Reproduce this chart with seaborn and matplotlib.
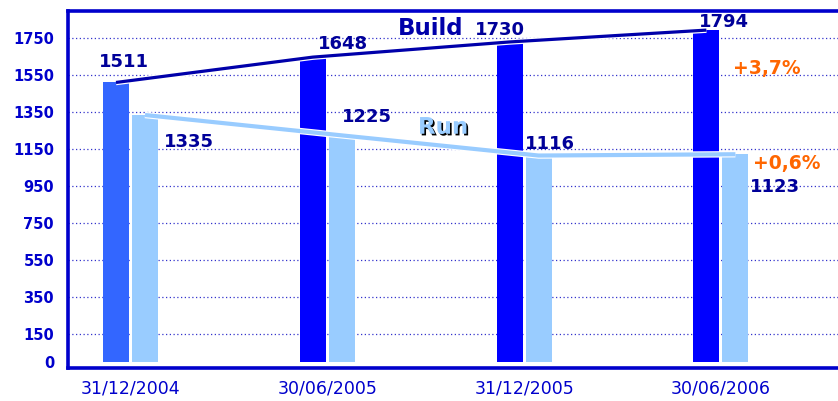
import pandas as pd
import matplotlib
matplotlib.use("Agg")
import matplotlib.pyplot as plt
import matplotlib.patheffects as pe
import seaborn as sns

# data
dates = ["31/12/2004", "30/06/2005", "31/12/2005", "30/06/2006"]
build = [1511, 1648, 1730, 1794]
run = [1335, 1225, 1116, 1123]
ytick_values = [0, 150, 350, 550, 750, 950, 1150, 1350, 1550, 1750]

# label offsets in pixels (dx, dy) from the top of each bar
build_offsets = [(8, 20), (30, 13), (-10, 12), (18, 8)]
run_offsets = [(44, -27), (25, 18), (11, 12), (40, -33)]

df = pd.DataFrame({
    "date": dates * 2,
    "series": ["Build"] * len(dates) + ["Run"] * len(dates),
    "value": build + run,
})

sns.set_style("white")
plt.rcParams["font.family"] = ["DejaVu Sans"]

fig = plt.figure(figsize=(8.38, 4.01), dpi=100)
ax = fig.add_axes([68 / 838, 1 - 368 / 401, 770 / 838, 357 / 401])

width = 0.295
sns.barplot(data=df, x="date", y="value", hue="series", order=dates,
            palette={"Build": "#0000FF", "Run": "#99CCFF"}, saturation=1,
            width=width, gap=0.1, errorbar=None, legend=False, linewidth=0, ax=ax)
# first build bar is a lighter blue
ax.containers[0][0].set_facecolor("#3366FF")

off = width / 4
xs = list(range(len(dates)))
bx = [x - off for x in xs]
rx = [x + off for x in xs]

ax.plot(bx, build, color="#0000AA", lw=2.3, solid_capstyle="butt", zorder=4,
        path_effects=[pe.Stroke(linewidth=4.0, foreground="white"), pe.Normal()])
ax.plot(rx, run, color="#99CCFF", lw=3.0, solid_capstyle="butt", zorder=4,
        path_effects=[pe.Stroke(linewidth=4.6, foreground="white"), pe.Normal()])

for x, v, (dx, dy) in zip(bx, build, build_offsets):
    ax.annotate(str(v), (x, v), xytext=(dx, dy), textcoords="offset pixels",
                ha="center", va="center", fontsize=13, fontweight="bold",
                color="#000099", zorder=5)
for x, v, (dx, dy) in zip(rx, run, run_offsets):
    ax.annotate(str(v), (x, v), xytext=(dx, dy), textcoords="offset pixels",
                ha="center", va="center", fontsize=13, fontweight="bold",
                color="#000099", zorder=5)

# growth over the last half year
g_build = (build[-1] / build[-2] - 1) * 100
g_run = (run[-1] / run[-2] - 1) * 100
ax.annotate(f"+{g_build:.1f}%".replace(".", ","), (bx[-1], build[-1]),
            xytext=(60, -38), textcoords="offset pixels", ha="center", va="center",
            fontsize=13.5, fontweight="bold", color="#FF6600", zorder=5)
ax.annotate(f"+{g_run:.1f}%".replace(".", ","), (rx[-1], run[-1]),
            xytext=(51, -9), textcoords="offset pixels", ha="center", va="center",
            fontsize=13.5, fontweight="bold", color="#FF6600", zorder=5)

ax.text(1.527, 1804, "Build", ha="center", va="center", fontsize=16.5,
        fontweight="bold", color="#0000AA", zorder=5)
ax.text(1.588, 1269, "Run", ha="center", va="center", fontsize=16.5,
        fontweight="bold", color="#99CCFF", zorder=5,
        path_effects=[pe.withSimplePatchShadow(offset=(1.2, -1.2), shadow_rgbFace="black", alpha=1)])

ax.set_xlim(-0.3176, 3.595)
ax.set_ylim(-32.4, 1897.3)
ax.set_yticks(ytick_values)
ax.set_yticklabels([str(v) for v in ytick_values])
ax.set_xlabel("")
ax.set_ylabel("")

ax.yaxis.grid(True, color="#3333CC", linestyle=(0, (1, 2)), linewidth=0.9)
ax.get_ygridlines()[0].set_visible(False)
ax.set_axisbelow(True)

ax.tick_params(axis="y", length=0, pad=10, labelsize=10.5, labelcolor="#0000CC")
ax.tick_params(axis="x", length=0, pad=8, labelsize=12.5, labelcolor="#0000CC")
for lbl in ax.get_yticklabels():
    lbl.set_fontweight("bold")

for side in ["left", "top", "bottom"]:
    ax.spines[side].set_color("#0000CC")
    ax.spines[side].set_linewidth(2.6)
ax.spines["right"].set_visible(False)

fig.savefig("out.png", dpi=100)
